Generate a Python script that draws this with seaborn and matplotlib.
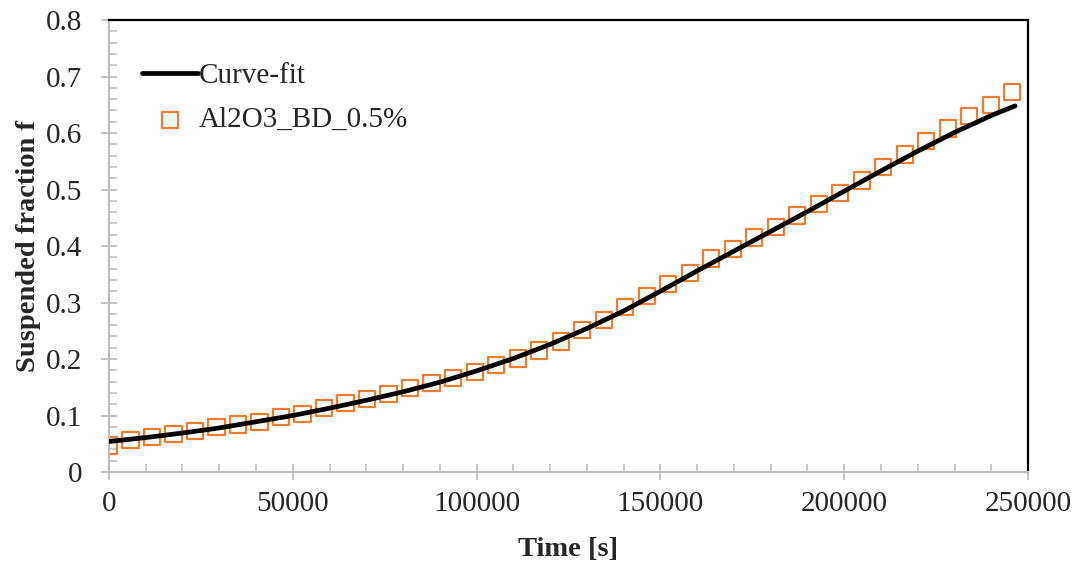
import matplotlib
matplotlib.use("Agg")
import matplotlib.pyplot as plt
import seaborn as sns
import pandas as pd
from matplotlib.ticker import MultipleLocator, FuncFormatter

# ---- data ----
time_step = 5850
meas_index = list(range(43))
meas_f = [0.047, 0.057, 0.0625, 0.067, 0.072, 0.079, 0.084, 0.0885, 0.097, 0.103,
          0.113, 0.1215, 0.129, 0.138, 0.148, 0.157, 0.167, 0.177, 0.190, 0.201,
          0.215, 0.231, 0.251, 0.269, 0.2915, 0.3115, 0.333, 0.352, 0.378, 0.394,
          0.415, 0.434, 0.454, 0.474, 0.494, 0.516, 0.540, 0.562, 0.586, 0.608,
          0.630, 0.650, 0.672]
meas_t = [i * time_step for i in meas_index]

fit_t = [0, 10000, 20000, 30000, 40000, 50000, 60000, 70000, 80000, 90000,
         100000, 110000, 120000, 130000, 140000, 150000, 160000, 170000, 180000,
         190000, 200000, 210000, 220000, 230000, 240000, 246500]
fit_f = [0.054, 0.061, 0.069, 0.078, 0.089, 0.100, 0.113, 0.127, 0.142, 0.159,
         0.179, 0.201, 0.226, 0.254, 0.285, 0.320, 0.356, 0.391, 0.426, 0.461,
         0.497, 0.533, 0.568, 0.601, 0.631, 0.648]

fit_label = "Curve-fit"
meas_label = "Al2O3_BD_0.5%"
x_label = "Time [s]"
y_label = "Suspended fraction f"

meas_df = pd.DataFrame({"t": meas_t, "f": meas_f})
fit_df = pd.DataFrame({"t": fit_t, "f": fit_f})

sns.set_style("white")
plt.rcParams['font.family'] = ['Liberation Serif', 'DejaVu Serif']

fig = plt.figure(figsize=(10.81, 5.67), dpi=100)
ax = fig.add_axes([0.1008, 0.1675, 0.8502, 0.7972])

sns.lineplot(data=fit_df, x="t", y="f", ax=ax, color="black", linewidth=3.4,
             label=fit_label, zorder=3)
sns.scatterplot(data=meas_df, x="t", y="f", ax=ax, marker="s", s=135,
                facecolor="none", edgecolor="#ED7D31", linewidth=1.6,
                label=meas_label, zorder=2)

ax.set_xlim(0, 250000)
ax.set_ylim(0, 0.8)
ax.xaxis.set_major_locator(MultipleLocator(50000))
ax.xaxis.set_minor_locator(MultipleLocator(10000))
ax.yaxis.set_major_locator(MultipleLocator(0.1))
ax.yaxis.set_minor_locator(MultipleLocator(0.02))
ax.xaxis.set_major_formatter(FuncFormatter(lambda v, p: f"{int(round(v))}"))
ax.yaxis.set_major_formatter(FuncFormatter(lambda v, p: "0" if abs(v) < 1e-9 else f"{v:.1f}"))

gray = "#BFBFBF"
for side in ["left", "bottom"]:
    ax.spines[side].set_color(gray)
    ax.spines[side].set_linewidth(1.6)
for side in ["top", "right"]:
    ax.spines[side].set_color("black")
    ax.spines[side].set_linewidth(1.6)
    ax.spines[side].set_visible(True)

ax.tick_params(axis="both", which="major", direction="inout", length=12, width=1.3,
               color=gray, labelsize=21, bottom=True, left=True)
ax.tick_params(axis="x", which="major", pad=8)
ax.tick_params(axis="y", which="major", pad=13)
ax.tick_params(axis="both", which="minor", direction="in", length=5.5, width=1.1,
               color=gray, bottom=True, left=True)

ax.set_xlabel(x_label, fontsize=20.5, fontweight="bold", labelpad=14)
ax.set_ylabel(y_label, fontsize=20.5, fontweight="bold", labelpad=4)

leg = ax.legend(loc="upper left", bbox_to_anchor=(0.017, 0.945), frameon=False,
                fontsize=21, handlelength=1.9, handletextpad=0.05,
                labelspacing=0.62, borderaxespad=0.2)

fig.savefig("out.png", dpi=100)
